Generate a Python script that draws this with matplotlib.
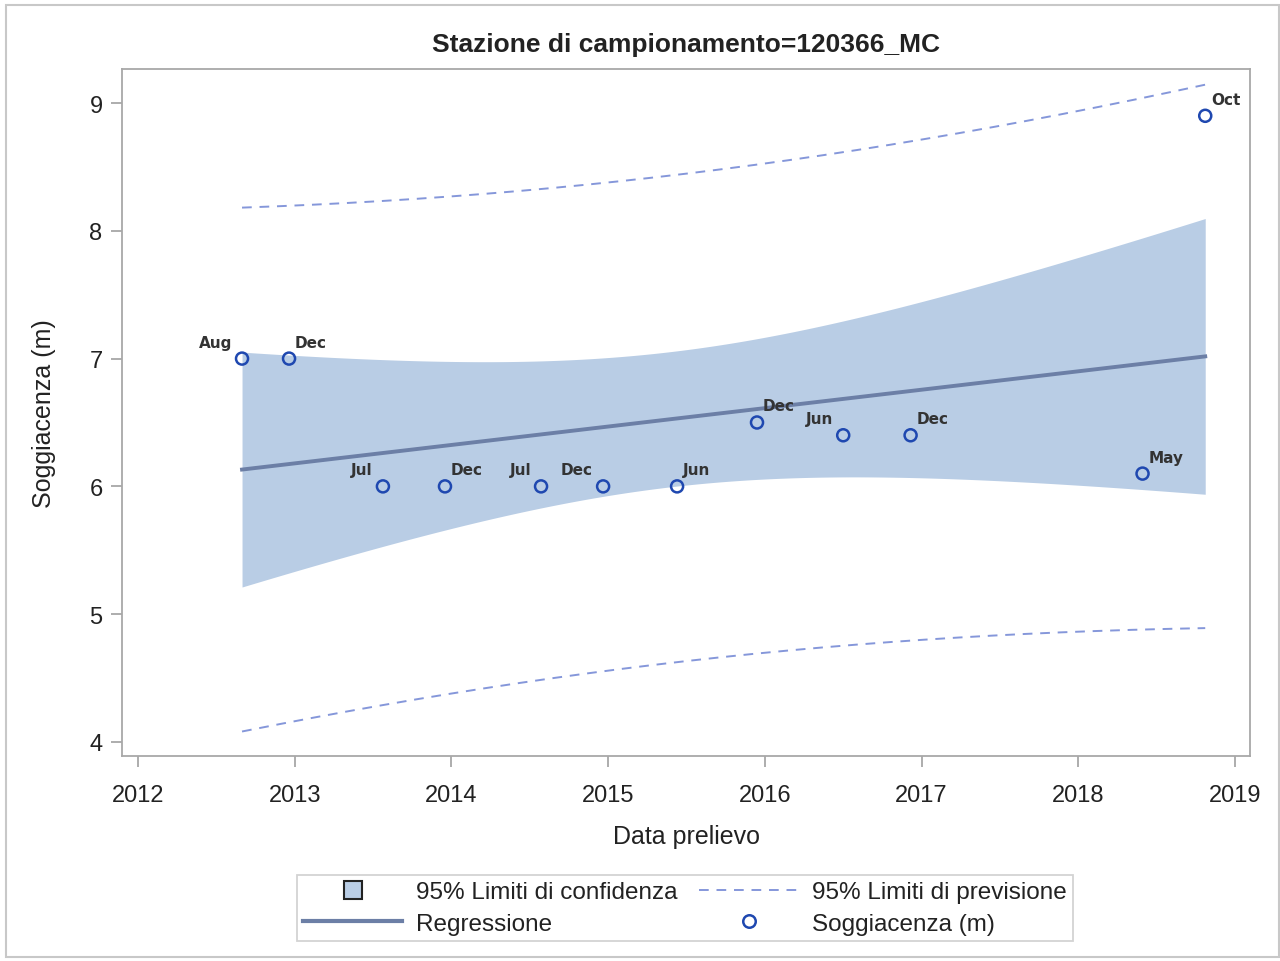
import matplotlib.pyplot as plt
import numpy as np
from matplotlib.lines import Line2D
from matplotlib.patches import Rectangle

# sampling dates (decimal years), depth to water table (m) and month labels
date_year = [2012.664, 2012.964, 2013.563, 2013.959, 2014.572, 2014.968,
             2015.440, 2015.950, 2016.500, 2016.930, 2018.410, 2018.810]
depth = [7.0, 7.0, 6.0, 6.0, 6.0, 6.0, 6.0, 6.5, 6.4, 6.4, 6.1, 8.9]
months = ['Aug', 'Dec', 'Jul', 'Dec', 'Jul', 'Dec',
          'Jun', 'Dec', 'Jun', 'Dec', 'May', 'Oct']
label_side = ['L', 'R', 'L', 'R', 'L', 'L', 'R', 'R', 'L', 'R', 'R', 'R']
year_ticks = [2012, 2013, 2014, 2015, 2016, 2017, 2018, 2019]
depth_ticks = [4, 5, 6, 7, 8, 9]

plt.rcParams['font.family'] = ['Liberation Sans', 'DejaVu Sans']

x = np.array(date_year)
y = np.array(depth)
n = len(x)

# linear regression with 95% confidence and prediction limits
slope, intercept = np.polyfit(x, y, 1)
resid = y - (slope * x + intercept)
s = np.sqrt(np.sum(resid ** 2) / (n - 2))
t_val = 2.228  # t(0.975, 10 df)
sxx = np.sum((x - x.mean()) ** 2)
xs = np.linspace(x.min(), x.max(), 200)
fit = slope * xs + intercept
se_mean = s * np.sqrt(1 / n + (xs - x.mean()) ** 2 / sxx)
se_pred = s * np.sqrt(1 + 1 / n + (xs - x.mean()) ** 2 / sxx)

band_col = '#B9CDE5'
reg_col = '#6C7FA6'
pred_col = '#8597DA'
pt_col = '#1F48B0'
dash = (0, (5, 4))

fig = plt.figure(figsize=(12.8, 9.62), dpi=100)
ax = fig.add_axes([0.0953, 0.2131, 0.8813, 0.7141])

ax.fill_between(xs, fit - t_val * se_mean, fit + t_val * se_mean,
                color=band_col, linewidth=0)
ax.plot(xs, fit, color=reg_col, linewidth=2.8)
ax.plot(xs, fit - t_val * se_pred, color=pred_col, linewidth=1.4, linestyle=dash)
ax.plot(xs, fit + t_val * se_pred, color=pred_col, linewidth=1.4, linestyle=dash)
ax.scatter(x, y, s=75, facecolors='none', edgecolors=pt_col,
           linewidths=1.8, zorder=5)

for xi, yi, lab, side in zip(x, y, months, label_side):
    if side == 'L':
        ax.annotate(lab, (xi, yi), xytext=(-10, 9), textcoords='offset pixels',
                    ha='right', va='bottom', fontsize=11, fontweight='bold',
                    family='DejaVu Sans', color='#333333')
    else:
        ax.annotate(lab, (xi, yi), xytext=(6, 9), textcoords='offset pixels',
                    ha='left', va='bottom', fontsize=11, fontweight='bold',
                    family='DejaVu Sans', color='#333333')

ax.set_xlim(2011.898, 2019.096)
ax.set_ylim(3.89, 9.266)
ax.set_xticks(year_ticks)
ax.set_yticks(depth_ticks)
ax.tick_params(colors='#A0A0A0', labelcolor='#222222', labelsize=17,
               length=8, width=1.2)
ax.tick_params(axis='x', pad=12)
ax.tick_params(axis='y', pad=6)
for sp in ax.spines.values():
    sp.set_color('#A8A8A8')
    sp.set_linewidth(1.3)

ax.set_xlabel('Data prelievo', fontsize=18, color='#222222', labelpad=13)
ax.set_ylabel('Soggiacenza (m)', fontsize=18, color='#222222', labelpad=24)
ax.set_title('Stazione di campionamento=120366_MC', fontsize=19,
             fontweight='bold', color='#222222', pad=13)

handles = [
    Line2D([], [], marker='s', markersize=13, markerfacecolor=band_col,
           markeredgecolor='#222222', markeredgewidth=1.5, linestyle='none'),
    Line2D([], [], color=reg_col, linewidth=3),
    Line2D([], [], color=pred_col, linewidth=1.4, linestyle=dash),
    Line2D([], [], marker='o', markersize=9, markerfacecolor='none',
           markeredgecolor=pt_col, markeredgewidth=1.8, linestyle='none'),
]
labels = ['95% Limiti di confidenza', 'Regressione',
          '95% Limiti di previsione', 'Soggiacenza (m)']
leg = fig.legend(handles, labels, loc='center', bbox_to_anchor=(0.535, 0.055),
                 ncol=2, fontsize=17.5, frameon=True, fancybox=False,
                 handlelength=4.1, handletextpad=0.55, columnspacing=0.9,
                 borderpad=0.25, labelspacing=0.4, borderaxespad=0)
leg.get_frame().set_edgecolor('#C8C8C8')
leg.get_frame().set_linewidth(1.3)
for txt in leg.get_texts():
    txt.set_color('#222222')

fig.patches.append(Rectangle((0.005, 0.004), 0.994, 0.99, transform=fig.transFigure,
                             fill=False, edgecolor='#C8C8C8', linewidth=1.5))

fig.savefig('out.png', dpi=100)
